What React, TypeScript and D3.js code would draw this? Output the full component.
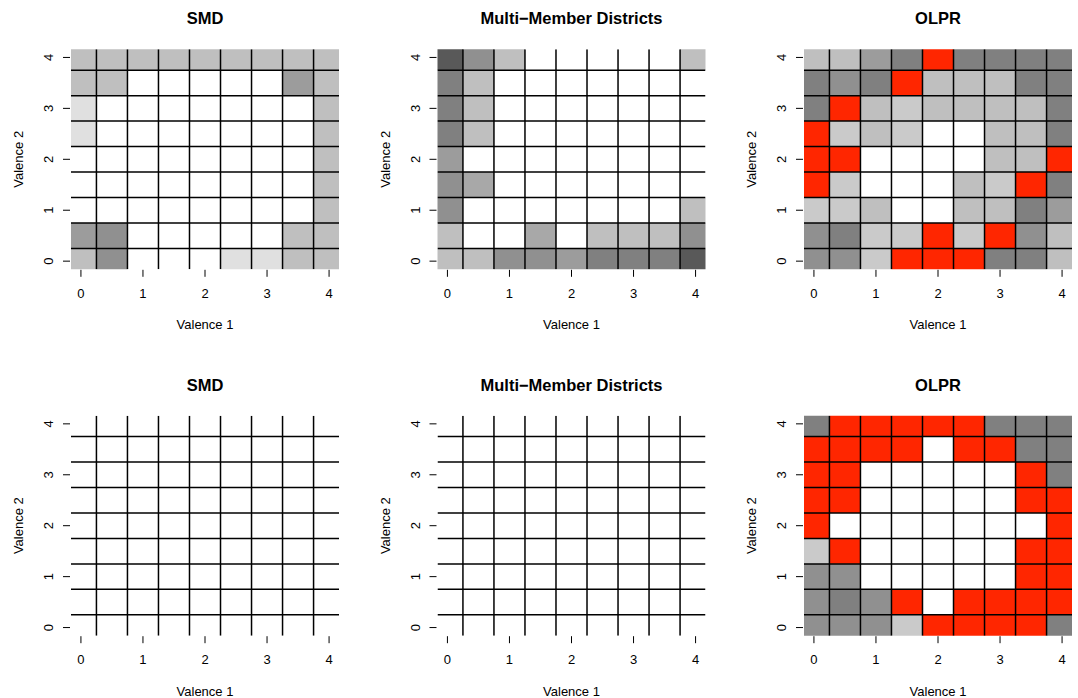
import React from "react";
import { scaleLinear, range } from "d3";

// grid values along each axis (cell centres)
const valences = [0, 0.5, 1, 1.5, 2, 2.5, 3, 3.5, 4];
const tickValues = [0, 1, 2, 3, 4];

// shade codes used in the cell rows below
const shades: Record<string, string> = {
  W: "#FFFFFF",
  a: "#E0E0E0",
  b: "#CACACA",
  c: "#BFBFBF",
  d: "#A8A8A8",
  e: "#9C9C9C",
  f: "#909090",
  g: "#808080",
  h: "#595959",
  R: "#FF2600",
};

// rows listed from valence 2 = 4 (top) down to 0, columns valence 1 = 0..4
const smdTop = [
  "ccccccccc",
  "ccWWWWWec",
  "aWWWWWWWc",
  "aWWWWWWWc",
  "WWWWWWWWc",
  "WWWWWWWWc",
  "WWWWWWWWc",
  "efWWWWWcc",
  "cfWWWaacc",
];

const mmdTop = [
  "hfcWWWWWc",
  "gcWWWWWWW",
  "gcWWWWWWW",
  "gcWWWWWWW",
  "eWWWWWWWW",
  "fdWWWWWWW",
  "fWWWWWWWc",
  "cWWdWcccf",
  "ccffegggh",
];

const olprTop = [
  "ccegRgggg",
  "gfgRcccgg",
  "gRcbccccg",
  "RbcbWWccg",
  "RRWWWWccR",
  "RbWWWcbRg",
  "bbcWWccge",
  "fgbbRbRfc",
  "ffbRRRggc",
];

const smdBottom = [
  "WWWWWWWWW",
  "WWWWWWWWW",
  "WWWWWWWWW",
  "WWWWWWWWW",
  "WWWWWWWWW",
  "WWWWWWWWW",
  "WWWWWWWWW",
  "WWWWWWWWW",
  "WWWWWWWWW",
];

const mmdBottom = [
  "WWWWWWWWW",
  "WWWWWWWWW",
  "WWWWWWWWW",
  "WWWWWWWWW",
  "WWWWWWWWW",
  "WWWWWWWWW",
  "WWWWWWWWW",
  "WWWWWWWWW",
  "WWWWWWWWW",
];

const olprBottom = [
  "gRRRRRggg",
  "RRRRWRRgg",
  "RRWWWWWRg",
  "RRWWWWWRR",
  "RWWWWWWWR",
  "bRWWWWWRR",
  "ffWWWWWRR",
  "fgfRWRRRR",
  "fffbRRRRg",
];

const titles = ["SMD", "Multi\u2212Member Districts", "OLPR"];
const panels = [
  { title: titles[0], rows: smdTop },
  { title: titles[1], rows: mmdTop },
  { title: titles[2], rows: olprTop },
  { title: titles[0], rows: smdBottom },
  { title: titles[1], rows: mmdBottom },
  { title: titles[2], rows: olprBottom },
];

const W = 1078;
const H = 698;
const plotW = 268;
const plotH = 220;
const colLeft = [71, 437.5, 804];
const rowTop = [49.3, 415.7];
const domain: [number, number] = [-0.16, 4.16];
const font = "'Liberation Sans', Arial, Helvetica, sans-serif";

const Panel = ({ idx, title, rows }: { idx: number; title: string; rows: string[] }) => {
  const left = colLeft[idx % 3];
  const top = rowTop[Math.floor(idx / 3)];
  const x = scaleLinear().domain(domain).range([0, plotW]);
  const y = scaleLinear().domain(domain).range([plotH, 0]);
  const clipId = `clip-${idx}`;
  const lines = range(0.25, 4, 0.5);

  return (
    <g transform={`translate(${left},${top})`}>
      <defs>
        <clipPath id={clipId}>
          <rect x={0} y={0} width={plotW} height={plotH} />
        </clipPath>
      </defs>
      <g clipPath={`url(#${clipId})`}>
        {rows.map((row, ri) =>
          valences.map((vx, ci) => {
            const vy = valences[valences.length - 1 - ri];
            return (
              <rect
                key={`${ri}-${ci}`}
                x={x(vx - 0.25)}
                y={y(vy + 0.25)}
                width={x(vx + 0.25) - x(vx - 0.25)}
                height={y(vy - 0.25) - y(vy + 0.25)}
                fill={shades[row[ci]] ?? "#FFFFFF"}
              />
            );
          })
        )}
        {lines.map((v) => (
          <line key={`v${v}`} x1={x(v)} x2={x(v)} y1={0} y2={plotH} stroke="#000" strokeWidth={1.5} />
        ))}
        {lines.map((v) => (
          <line key={`h${v}`} x1={0} x2={plotW} y1={y(v)} y2={y(v)} stroke="#000" strokeWidth={1.5} />
        ))}
      </g>

      {/* x axis: ticks only, no axis line */}
      {tickValues.map((t) => (
        <g key={`xt${t}`}>
          <line x1={x(t)} x2={x(t)} y1={plotH + 0.5} y2={plotH + 7.5} stroke="#000" strokeWidth={1} />
          <text x={x(t)} y={plotH + 28.5} textAnchor="middle" fontSize={13} fontFamily={font}>
            {t}
          </text>
        </g>
      ))}
      {tickValues.map((t) => (
        <g key={`yt${t}`}>
          <line x1={-8} x2={-1} y1={y(t)} y2={y(t)} stroke="#000" strokeWidth={1} />
          <text
            transform={`translate(-18,${y(t)}) rotate(-90)`}
            textAnchor="middle"
            fontSize={13}
            fontFamily={font}
          >
            {t}
          </text>
        </g>
      ))}

      <text x={plotW / 2} y={-25} textAnchor="middle" fontSize={16.5} fontWeight="bold" fontFamily={font}>
        {title}
      </text>
      <text x={plotW / 2} y={plotH + 60} textAnchor="middle" fontSize={13} fontFamily={font}>
        Valence 1
      </text>
      <text
        transform={`translate(-48,${plotH / 2}) rotate(-90)`}
        textAnchor="middle"
        fontSize={13}
        fontFamily={font}
      >
        Valence 2
      </text>
    </g>
  );
};

export default function App() {
  return (
    <svg
      width={W}
      height={H}
      style={{ position: "absolute", left: 0, top: 0, background: "#fff" }}
    >
      <rect width={W} height={H} fill="#fff" />
      {panels.map((p, i) => (
        <Panel key={i} idx={i} title={p.title} rows={p.rows} />
      ))}
    </svg>
  );
}
